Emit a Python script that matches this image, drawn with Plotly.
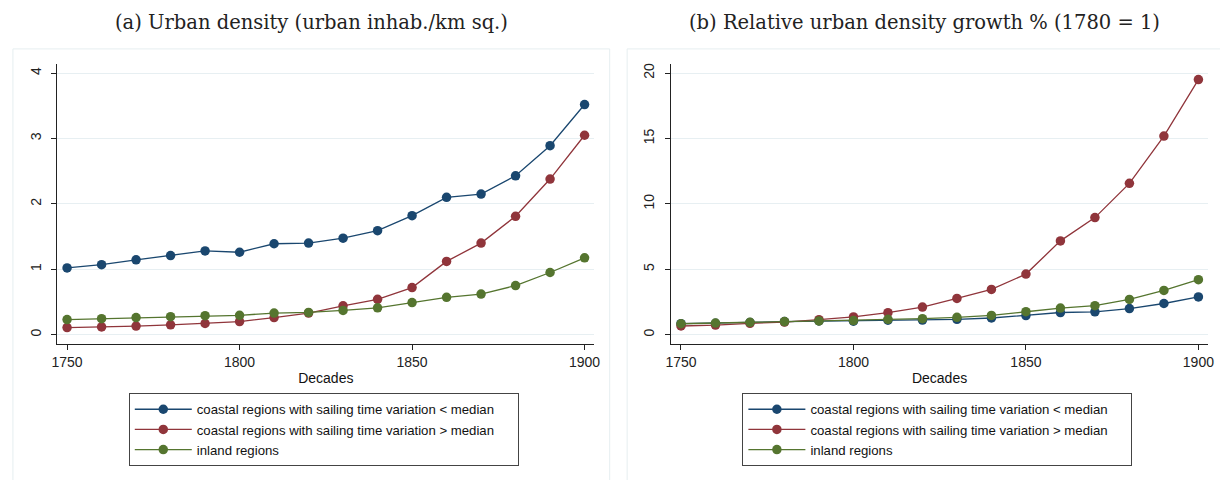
import plotly.graph_objects as go

decades = [1750, 1760, 1770, 1780, 1790, 1800, 1810, 1820, 1830, 1840, 1850, 1860, 1870, 1880, 1890, 1900]

# Panel (a): urban density (urban inhab./km sq.)
a_low = [1.02, 1.07, 1.145, 1.21, 1.28, 1.26, 1.39, 1.40, 1.475, 1.59, 1.82, 2.10, 2.15, 2.43, 2.89, 3.52]
a_high = [0.107, 0.117, 0.13, 0.15, 0.17, 0.20, 0.26, 0.33, 0.44, 0.54, 0.72, 1.12, 1.40, 1.81, 2.38, 3.05]
a_inland = [0.23, 0.244, 0.26, 0.275, 0.29, 0.295, 0.33, 0.34, 0.37, 0.41, 0.49, 0.57, 0.62, 0.75, 0.95, 1.175]

# Panel (b): relative urban density growth (1780 = 1)
b_low = [0.84, 0.87, 0.93, 1.0, 1.04, 1.03, 1.10, 1.11, 1.17, 1.27, 1.46, 1.69, 1.74, 1.99, 2.38, 2.88]
b_high = [0.66, 0.73, 0.86, 0.96, 1.14, 1.35, 1.68, 2.11, 2.77, 3.46, 4.63, 7.17, 8.95, 11.57, 15.19, 19.51]
b_inland = [0.83, 0.88, 0.94, 1.0, 1.05, 1.07, 1.17, 1.22, 1.32, 1.47, 1.75, 2.03, 2.21, 2.69, 3.38, 4.2]

names = ["coastal regions with sailing time variation < median",
         "coastal regions with sailing time variation > median",
         "inland regions"]
colors = ["#1a476f", "#90353b", "#55752f"]

titles = ["(a) Urban density (urban inhab./km sq.)",
          "(b) Relative urban density growth % (1780 = 1)"]
yticks_a = [0, 1, 2, 3, 4]
yticks_b = [0, 5, 10, 15, 20]
xticks = [1750, 1800, 1850, 1900]

W, H = 1220, 480
def px(x):
    return x / W
def py(y):
    return (H - y) / H

PAD = "\u00a0" * 5  # extra right padding inside the legend box

fig = go.Figure()

for ys, nm, c in zip([a_low, a_high, a_inland], names, colors):
    fig.add_trace(go.Scatter(x=decades, y=ys, name=nm + PAD, mode="lines+markers",
                             line=dict(color=c, width=1.3),
                             marker=dict(color=c, size=9.5, line=dict(width=0)),
                             xaxis="x", yaxis="y", legend="legend"))
for ys, nm, c in zip([b_low, b_high, b_inland], names, colors):
    fig.add_trace(go.Scatter(x=decades, y=ys, name=nm + PAD, mode="lines+markers",
                             line=dict(color=c, width=1.3),
                             marker=dict(color=c, size=9.5, line=dict(width=0)),
                             xaxis="x2", yaxis="y2", legend="legend2"))

sans = "Liberation Sans, Arial, sans-serif"
tickfont = dict(family=sans, size=14, color="#222")
common_x = dict(showgrid=False, showline=True, linecolor="#222", linewidth=1,
                ticks="outside", ticklen=5, tickcolor="#222", tickfont=tickfont,
                tickvals=xticks, zeroline=False,
                title=dict(text="Decades", font=dict(family=sans, size=14, color="#111"), standoff=4))
common_y = dict(showgrid=True, gridcolor="#e7eff2", gridwidth=1, showline=True, linecolor="#222",
                linewidth=1, ticks="outside", ticklen=5, tickcolor="#222", tickfont=tickfont,
                tickangle=-90, zeroline=False, ticklabelstandoff=5)

legend_common = dict(yanchor="top", y=py(393), xanchor="left",
                     bordercolor="#444", borderwidth=1, bgcolor="white",
                     font=dict(family=sans, size=13.2, color="#111"),
                     itemwidth=57, tracegroupgap=0)

ydom = [py(344), py(63)]
fig.update_layout(
    width=W, height=H,
    margin=dict(l=0, r=0, t=0, b=0),
    paper_bgcolor="white", plot_bgcolor="white",
    xaxis=dict(domain=[px(52), px(594)], range=[1747.22, 1902.78], anchor="y", **common_x),
    yaxis=dict(domain=ydom, range=[-0.148, 4.142], tickvals=yticks_a, anchor="x", **common_y),
    xaxis2=dict(domain=[px(671.7), px(1214)], range=[1747.13, 1902.8], anchor="y2", **common_x),
    yaxis2=dict(domain=ydom, range=[-0.74, 20.71], tickvals=yticks_b, anchor="x2", **common_y),
    legend=dict(x=px(124), **legend_common),
    legend2=dict(x=px(743.7), **legend_common),
    showlegend=True,
)

# panel borders
fig.add_shape(type="rect", xref="paper", yref="paper", x0=px(7), x1=px(609.7), y0=py(495), y1=py(48),
              line=dict(color="#e6eef0", width=1), fillcolor="rgba(0,0,0,0)", layer="below")
fig.add_shape(type="rect", xref="paper", yref="paper", x0=px(627.3), x1=px(1230), y0=py(495), y1=py(48),
              line=dict(color="#e6eef0", width=1), fillcolor="rgba(0,0,0,0)", layer="below")

for t, cx in zip(titles, [309, 928]):
    fig.add_annotation(text=t, xref="paper", yref="paper", x=px(cx), y=py(22),
                       xanchor="center", yanchor="middle", showarrow=False,
                       font=dict(family="DejaVu Serif, serif", size=19.5, color="#222"))

fig.write_html("out.html")
